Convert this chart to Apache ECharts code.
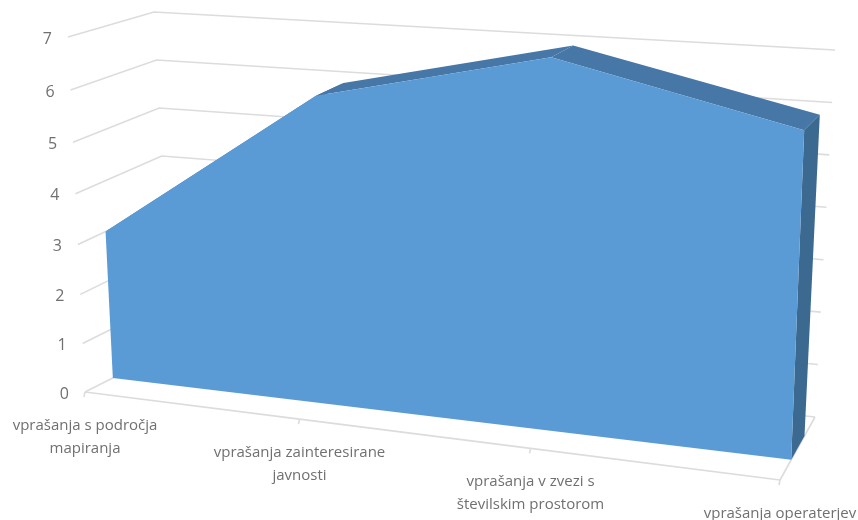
<!DOCTYPE html>
<html><head><meta charset="utf-8">
<style>html,body{margin:0;padding:0;background:#fff}#c{width:858px;height:520px}#c canvas{filter:blur(0.45px)}</style>
<script src="https://cdn.jsdelivr.net/npm/echarts@6/dist/echarts.min.js"></script>
</head><body><div id="c"></div>
<script>
const categories = ["vprašanja s področja\nmapiranja","vprašanja zainteresirane\njavnosti","vprašanja v zvezi s\nštevilskim prostorom","vprašanja operaterjev"];
const values = [3,6,7,6];
const yTicks = [0,1,2,3,4,5,6,7];
const faceColor='#5b9bd5', topColor='#4777a6', sideColor='#3c6990', gridColor='#dcdcdc', textColor='#707070';

// Corners of the 3D box as seen on the page: front/back, left/right, bottom/top
const box={flb:[85,392],frb:[780,480],blb:[172,348],brb:[815,417],flt:[68,37],frt:[793,84],blt:[154,12],brt:[835,50]};
const wFront=.32, wBack=.70, perspX=1.12, perspY=1.055;
const lerp=(a,b,t)=>[a[0]+(b[0]-a[0])*t,a[1]+(b[1]-a[1])*t];
function project(u,v,w){
  const U=u/(u+(1-u)*perspX);
  const kv=perspY-(perspY-1)*w;
  const V=v/(v+(1-v)*kv);
  const bot=lerp(lerp(box.flb,box.frb,U),lerp(box.blb,box.brb,U),w);
  const top=lerp(lerp(box.flt,box.frt,U),lerp(box.blt,box.brt,U),w);
  return lerp(bot,top,V);
}
// data value -> library axis pixel -> normalised -> box position
function P(api,params,cat,val,w){
  const c=api.coord([cat,val]), s=params.coordSys;
  return project((c[0]-s.x)/s.width,1-(c[1]-s.y)/s.height,w);
}
const n=categories.length;
const line=(pts,w)=>({type:'polyline',shape:{points:pts},style:{stroke:gridColor,lineWidth:w||1.6,fill:null},silent:true});

const series=[
 {type:'custom',name:'grid',coordinateSystem:'cartesian2d',silent:true,z:1,
  data:yTicks.map(t=>[t]),encode:{y:0},clip:false,
  renderItem(params,api){
    const t=api.value(0);
    return line([P(api,params,0,t,0),P(api,params,0,t,1),P(api,params,n-1,t,1)]);
  }},
 {type:'custom',name:'floor',coordinateSystem:'cartesian2d',silent:true,z:1,
  data:categories.map((c,i)=>[i]),encode:{x:0},clip:false,
  renderItem(params,api){
    const i=api.value(0);
    const a=P(api,params,i,0,0);
    const ch=[line([[a[0],a[1]],[a[0]-1,a[1]+5]])];
    if(i<n-1){ch.push(line([a,P(api,params,i+1,0,0)]));}
    else{ch.push(line([a,P(api,params,i,0,1)]));}
    return {type:'group',children:ch};
  }},
 {type:'custom',name:'top',coordinateSystem:'cartesian2d',silent:true,z:2,
  data:values.slice(0,-1).map((v,i)=>[i,v,values[i+1]]),encode:{x:0,y:1},clip:false,
  renderItem(params,api){
    const i=api.value(0),a=api.value(1),b=api.value(2);
    return {type:'polygon',shape:{points:[P(api,params,i,a,wFront),P(api,params,i+1,b,wFront),P(api,params,i+1,b,wBack),P(api,params,i,a,wBack)]},style:{fill:topColor}};
  }},
 {type:'custom',name:'side',coordinateSystem:'cartesian2d',silent:true,z:3,
  data:[[n-1,values[n-1]]],encode:{x:0,y:1},clip:false,
  renderItem(params,api){
    const i=api.value(0),a=api.value(1);
    return {type:'polygon',shape:{points:[P(api,params,i,a,wFront),P(api,params,i,a,wBack),P(api,params,i,0,wBack),P(api,params,i,0,wFront)]},style:{fill:sideColor}};
  }},
 {type:'custom',name:'face',coordinateSystem:'cartesian2d',silent:true,z:4,
  data:values.map((v,i)=>[i,v]),encode:{x:0,y:1},clip:false,
  renderItem(params,api){
    if(params.dataIndex!==0)return null;
    const pts=values.map((v,i)=>P(api,params,i,v,wFront));
    pts.push(P(api,params,n-1,0,wFront),P(api,params,0,0,wFront));
    return {type:'polygon',shape:{points:pts},style:{fill:faceColor}};
  }},
 {type:'custom',name:'ylabels',coordinateSystem:'cartesian2d',silent:true,z:5,
  data:yTicks.map(t=>[t]),encode:{y:0},clip:false,
  renderItem(params,api){
    const t=api.value(0),p=P(api,params,0,t,0);
    return {type:'text',style:{text:String(t),x:p[0]-16,y:p[1]+2,align:'right',verticalAlign:'middle',fontFamily:'Open Sans',fontSize:16,fill:textColor}};
  }},
 {type:'custom',name:'xlabels',coordinateSystem:'cartesian2d',silent:true,z:5,
  data:categories.map((c,i)=>[i]),encode:{x:0},clip:false,
  renderItem(params,api){
    const i=api.value(0),p=P(api,params,i,0,0);
    return {type:'text',style:{text:categories[i],x:p[0],y:p[1]+22,align:'center',verticalAlign:'top',lineHeight:23,fontFamily:'Open Sans',fontSize:15,fill:textColor}};
  }}
];
const chart=echarts.init(document.getElementById('c'),null,{renderer:'canvas'});
chart.setOption({
  animation:false,backgroundColor:'#fff',
  grid:{left:100,right:100,top:50,bottom:100},
  xAxis:{type:'category',data:categories,boundaryGap:false,show:false},
  yAxis:{type:'value',min:0,max:7,interval:1,show:false},
  series
});
</script></body></html>
